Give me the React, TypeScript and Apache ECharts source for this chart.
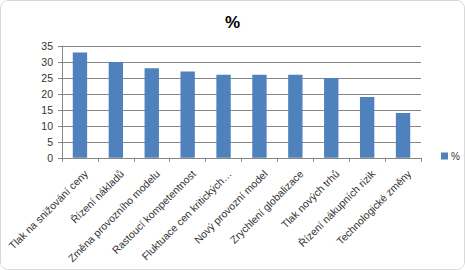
import React, { useEffect, useRef } from "react";
import * as echarts from "echarts";

const categories = [
  "Tlak na snižování ceny",
  "Řízení nákladů",
  "Změna provozního modelu",
  "Rastoucí kompetentnost",
  "Fluktuace cen kritických…",
  "Nový provozní model",
  "Zrychlení globalizace",
  "Tlak nových trhů",
  "Řízení nákupních rizik",
  "Technologické změny",
];
const values = [33, 30, 28, 27, 26, 26, 26, 25, 19, 14];
const seriesName = "%";

export default function App() {
  const ref = useRef<HTMLDivElement>(null);
  useEffect(() => {
    if (!ref.current) return;
    const chart = echarts.init(ref.current, null, { renderer: "svg" });
    const font = "Liberation Sans, Arial, sans-serif";
    chart.setOption({
      animation: false,
      backgroundColor: "#ffffff",
      title: {
        text: "%",
        left: "center",
        top: 8,
        textStyle: { fontSize: 17, fontWeight: "bold", color: "#000", fontFamily: font },
      },
      legend: {
        data: [seriesName],
        orient: "vertical",
        left: 435,
        top: 145,
        itemWidth: 7,
        itemHeight: 7,
        itemGap: 4,
        icon: "rect",
        textStyle: { fontSize: 10, color: "#333", fontFamily: font, padding: [0, 0, 0, -2] },
      },
      grid: { left: 61, right: 43, top: 45, bottom: 108, containLabel: false },
      xAxis: {
        type: "category",
        data: categories,
        axisLine: { lineStyle: { color: "#868686" } },
        axisTick: { show: true, alignWithLabel: false, length: 4, lineStyle: { color: "#868686" } },
        axisLabel: {
          rotate: 45,
          interval: 0,
          fontSize: 10.5,
          color: "#333",
          fontFamily: font,
          margin: 8,
          verticalAlign: "top",
          lineHeight: 18,
        },
      },
      yAxis: {
        type: "value",
        min: 0,
        max: 35,
        interval: 5,
        axisLine: { show: true, lineStyle: { color: "#868686" } },
        axisTick: { show: true, length: 4, lineStyle: { color: "#868686" } },
        splitLine: { lineStyle: { color: "#868686" } },
        axisLabel: { fontSize: 10.5, color: "#333", fontFamily: font, margin: 9 },
      },
      series: [
        {
          name: seriesName,
          type: "bar",
          data: values,
          barWidth: "40%",
          itemStyle: { color: "#4F81BD" },
        },
      ],
    });
    return () => chart.dispose();
  }, []);
  return (
    <div
      style={{
        width: 463,
        height: 268,
        border: "1px solid #d9d9d9",
        borderRadius: 8,
        overflow: "hidden",
        position: "absolute",
        left: 0,
        top: 0,
      }}
    >
      <div ref={ref} style={{ width: 463, height: 268 }} />
    </div>
  );
}
